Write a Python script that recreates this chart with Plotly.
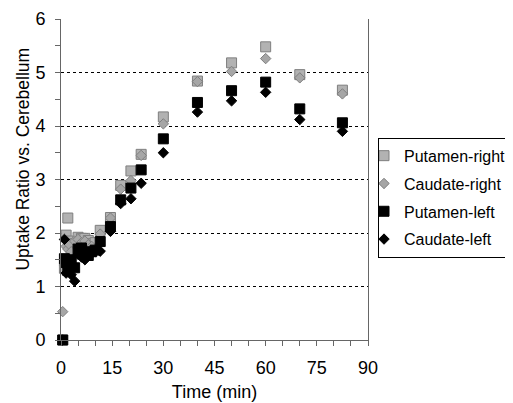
import plotly.graph_objects as go

# frame mid-times (min)
time_min = [0.5, 1, 1.5, 2, 2.5, 3, 4, 5, 6, 7, 8, 9, 10,
            11.5, 14.5, 17.5, 20.5, 23.5, 30, 40, 50, 60, 70, 82.5]

putamen_right = [0.0, 1.34, 1.96, 2.28, 1.85, 1.72, 1.80, 1.92, 1.90, 1.90, 1.86, 1.80, 1.82,
                 2.05, 2.29, 2.89, 3.16, 3.47, 4.17, 4.84, 5.18, 5.48, 4.96, 4.67]
caudate_right = [0.53, 1.40, 1.75, 1.70, 1.78, 1.65, 1.85, 1.88, 1.82, 1.85, 1.78, 1.75, 1.70,
                 1.98, 2.28, 2.82, 2.98, 3.45, 4.04, 4.83, 5.02, 5.26, 4.90, 4.60]
putamen_left = [0.0, 1.52, 1.45, 1.30, 1.40, 1.50, 1.35, 1.70, 1.72, 1.62, 1.58, 1.65, 1.68,
                1.84, 2.12, 2.62, 2.84, 3.18, 3.76, 4.44, 4.66, 4.82, 4.32, 4.06]
caudate_left = [0.0, 1.88, 1.25, 1.45, 1.32, 1.22, 1.10, 1.60, 1.55, 1.50, 1.60, 1.62, 1.65,
                1.66, 2.03, 2.55, 2.64, 2.93, 3.50, 4.26, 4.47, 4.63, 4.12, 3.90]

FONT = "Liberation Sans, Arial, sans-serif"

series = [
    ("Putamen-right", putamen_right, "square", 10, "#B2B2B2", "#7F7F7F"),
    ("Caudate-right", caudate_right, "diamond", 8, "#A6A6A6", "#7F7F7F"),
    ("Putamen-left", putamen_left, "square", 10, "black", "black"),
    ("Caudate-left", caudate_left, "diamond", 8, "black", "black"),
]

fig = go.Figure()
for name, vals, sym, size, fill, edge in series:
    fig.add_trace(go.Scatter(
        x=time_min, y=vals, mode="markers", name=name, legendgroup=name,
        marker=dict(symbol=sym, size=size, color=fill, line=dict(color=edge, width=1)),
        cliponaxis=False,
    ))

# dotted gridlines only at 1..5 (none at the top edge)
fig.add_trace(go.Scatter(x=[None], y=[None], yaxis="y2", showlegend=False, hoverinfo="skip"))

# y title sits a bit above the plot centre in the original, so use an annotation
fig.add_annotation(text="Uptake Ratio vs. Cerebellum", textangle=-90,
                   xref="paper", yref="paper", x=-0.125, y=0.564,
                   xanchor="center", yanchor="middle", showarrow=False,
                   font=dict(size=17.5))

# page body has an 8px margin, so the figure is a bit smaller than the window
fig.update_layout(
    width=505, height=395,
    margin=dict(l=53, r=145, t=11, b=63, autoexpand=False),
    plot_bgcolor="white", paper_bgcolor="white",
    font=dict(family=FONT, size=18, color="black"),
    showlegend=True,
    legend=dict(x=1.0326, y=0.63, xanchor="left", yanchor="top",
                bordercolor="black", borderwidth=1, bgcolor="white",
                font=dict(size=16), tracegroupgap=4, itemwidth=30, indentation=-15),
    xaxis=dict(range=[0, 90], dtick=15, showgrid=False, zeroline=False, automargin=False,
               showline=True, linecolor="#666666", linewidth=1,
               ticks="outside", ticklen=5, tickcolor="#666666", ticklabelstandoff=6,
               minor=dict(dtick=5, ticks="outside", ticklen=5, tickcolor="#666666"),
               title=dict(text="Time (min)", standoff=8, font=dict(size=18))),
    yaxis=dict(range=[0, 6], dtick=1, showgrid=False, zeroline=False, automargin=False,
               showline=True, linecolor="#666666", linewidth=1, mirror=True,
               ticks="outside", ticklen=5, tickcolor="#666666", ticklabelstandoff=6,
               minor=dict(dtick=0.5, ticks="outside", ticklen=5, tickcolor="#666666")),
    yaxis2=dict(overlaying="y", range=[0, 6], tickvals=[1, 2, 3, 4, 5], automargin=False,
                showticklabels=False, showgrid=True, gridcolor="black",
                griddash="dot", gridwidth=1, zeroline=False, showline=False),
)

fig.write_html("out.html")
